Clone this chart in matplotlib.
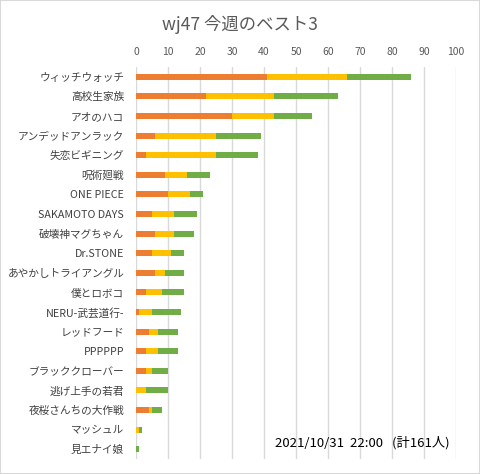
import matplotlib
matplotlib.use('Agg')
import matplotlib.pyplot as plt
from matplotlib.patches import Rectangle
import numpy as np

plt.rcParams['font.family'] = ['Noto Sans CJK JP', 'DejaVu Sans']

# タイトル・作品名
title = "wj47 今週のベスト3"
titles = ["ウィッチウォッチ", "高校生家族", "アオのハコ", "アンデッドアンラック",
          "失恋ビギニング", "呪術廻戦", "ONE PIECE", "SAKAMOTO DAYS",
          "破壊神マグちゃん", "Dr.STONE", "あやかしトライアングル", "僕とロボコ",
          "NERU-武芸道行-", "レッドフード", "PPPPPP", "ブラッククローバー",
          "逃げ上手の若君", "夜桜さんちの大作戦", "マッシュル", "見エナイ娘"]

# 1位 / 2位 / 3位 の票数
first = [41, 22, 30, 6, 3, 9, 10, 5, 6, 5, 6, 3, 1, 4, 3, 3, 0, 4, 0, 0]
second = [25, 21, 13, 19, 22, 7, 7, 7, 6, 6, 3, 5, 4, 3, 4, 2, 3, 1, 1, 0]
third = [20, 20, 12, 14, 13, 7, 4, 7, 6, 4, 6, 7, 9, 6, 6, 5, 7, 3, 1, 1]

xticks = list(range(0, 101, 10))
note = "2021/10/31  22:00   (計161人)"

fig = plt.figure(figsize=(4.8, 4.74), dpi=100)
fig.patches.append(Rectangle((0, 0), 1, 1, transform=fig.transFigure,
                             fill=False, edgecolor='#d9d9d9', lw=1.5))

ax = fig.add_axes([136/480, 1 - 459/474, 320/480, 392/474])

y = np.arange(len(titles))
f = np.array(first)
s = np.array(second)
t = np.array(third)
h = 0.31
ax.barh(y, f, height=h, color='#ED7D31', zorder=3)
ax.barh(y, s, left=f, height=h, color='#FFC000', zorder=3)
ax.barh(y, t, left=f + s, height=h, color='#70AD47', zorder=3)

ax.set_ylim(len(titles) - 0.5, -0.5)
ax.set_xlim(0, 100)
ax.set_xticks(xticks)
ax.xaxis.tick_top()
ax.tick_params(axis='x', length=0, pad=7, labelsize=7.5, labelcolor='#595959')
ax.set_yticks(y)
ax.set_yticklabels(titles)
ax.tick_params(axis='y', length=0, pad=8.5, labelsize=7.7, labelcolor='#404040')
ax.grid(axis='x', color='#d9d9d9', lw=1, zorder=0)
for sp in ax.spines.values():
    sp.set_visible(False)

fig.text(240/480, 1 - 24/474, title, ha='center', va='center',
         fontsize=12.5, color='#595959')
fig.text(275/480, 1 - 443/474, note, ha='left', va='center',
         fontsize=9.5, color='black')

fig.savefig('out.png', dpi=100)
